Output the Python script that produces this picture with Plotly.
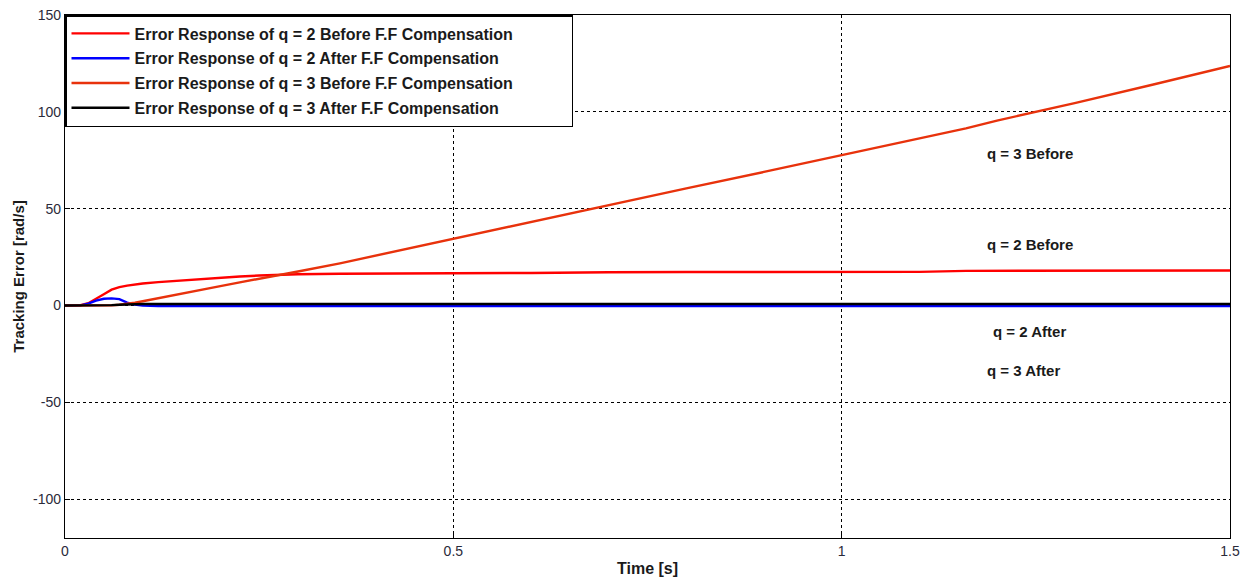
import plotly.graph_objects as go

# ---- data ----
time_s = [0, 0.01, 0.02, 0.03, 0.04, 0.05, 0.06, 0.07, 0.08, 0.09, 0.10, 0.12,
          0.15, 0.165, 0.20, 0.225, 0.25, 0.286, 0.30, 0.354, 0.40, 0.50, 0.60,
          0.67, 0.70, 0.80, 0.90, 1.00, 1.10, 1.16, 1.20, 1.30, 1.40, 1.50]

q2_before = [0, 0, 0.2, 1.2, 3.3, 5.8, 8.2, 9.5, 10.3, 10.9, 11.4, 12.1,
             13.0, 13.5, 14.4, 15.0, 15.5, 16.0, 16.2, 16.4, 16.6, 16.7, 16.8,
             17.2, 17.2, 17.3, 17.3, 17.4, 17.4, 17.9, 17.9, 18.0, 18.0, 18.1]

q2_after = [0, 0, 0.1, 1.0, 2.5, 3.5, 3.7, 3.3, 1.5, 0.5, 0, -0.2,
            -0.3, -0.3, -0.3, -0.3, -0.3, -0.3, -0.3, -0.3, -0.3, -0.3, -0.3,
            -0.3, -0.3, -0.3, -0.3, -0.3, -0.3, -0.3, -0.3, -0.3, -0.3, -0.3]

q3_before = [0, 0, 0, 0, 0, 0, 0.1, 0.4, 0.8, 1.5, 2.2, 3.7,
             6.0, 7.2, 10.0, 12.0, 14.0, 16.6, 17.6, 21.8, 25.8, 34.6, 43.5,
             49.5, 52.0, 60.5, 69.0, 77.8, 86.5, 91.5, 95.5, 104.5, 114.0, 123.7]

q3_after = [0, 0, 0, 0, 0, 0.1, 0.2, 0.4, 0.6, 0.7, 0.8, 0.8,
            0.8, 0.8, 0.8, 0.8, 0.8, 0.8, 0.8, 0.8, 0.8, 0.8, 0.8,
            0.8, 0.8, 0.8, 0.8, 0.8, 0.8, 0.8, 0.8, 0.8, 0.8, 0.8]

series_names = [
    "Error Response of q = 2 Before F.F Compensation",
    "Error Response of q = 2 After F.F Compensation",
    "Error Response of q = 3 Before F.F Compensation",
    "Error Response of q = 3 After F.F Compensation",
]
series_values = [q2_before, q2_after, q3_before, q3_after]
series_colors = ["#ff0000", "#0000ff", "#e8320c", "#000000"]

x_ticks = [0, 0.5, 1, 1.5]
x_tick_text = ["0", "0.5", "1", "1.5"]
y_ticks = [-100, -50, 0, 50, 100, 150]
y_tick_text = ["-100", "-50", "0", "50", "100", "150"]

labels = ["q = 3 Before", "q = 2 Before", "q = 2 After", "q = 3 After"]
label_x = [1.242, 1.242, 1.242, 1.234]
label_y = [78.5, 31.5, -13.5, -33.5]

FONT = "Liberation Sans, Arial"
PAD = "\u00a0" * 12

fig = go.Figure()
for i in range(4):
    fig.add_trace(go.Scatter(
        x=time_s, y=series_values[i], mode="lines",
        name="<b>%s</b>%s" % (series_names[i], PAD),
        line=dict(color=series_colors[i], width=2.4),
        legendgroup="g%d" % i, legendrank=i + 1,
    ))

for t, lx, ly in zip(labels, label_x, label_y):
    fig.add_annotation(x=lx, y=ly, text="<b>%s</b>" % t, showarrow=False,
                       font=dict(family=FONT, size=15, color="#1a1a1a"))

axis_common = dict(
    showline=True, linecolor="black", linewidth=1.2, mirror=True,
    ticks="inside", ticklen=5, tickcolor="black",
    showgrid=True, gridcolor="black", gridwidth=1, griddash="3px,3px",
    zeroline=False, automargin=False, ticklabeloverflow="allow",
    tickfont=dict(family=FONT, size=14, color="#2a2a3a"),
)

fig.update_xaxes(range=[0, 1.5], tickvals=x_ticks, ticktext=x_tick_text,
                 title=dict(text="<b>Time [s]</b>", standoff=4,
                            font=dict(family=FONT, size=16, color="#1a1a1a")),
                 **axis_common)
fig.update_yaxes(range=[-120, 150], tickvals=y_ticks, ticktext=y_tick_text,
                 title=dict(text="<b>Tracking Error [rad/s]</b>", standoff=4,
                            font=dict(family=FONT, size=15, color="#1a1a1a")),
                 **axis_common)

fig.update_layout(
    width=1250, height=586,
    margin=dict(l=57, r=28, t=7, b=56),
    paper_bgcolor="white", plot_bgcolor="white",
    showlegend=True,
    legend=dict(
        x=0, y=1, xanchor="left", yanchor="top",
        bgcolor="white", bordercolor="black", borderwidth=1.5,
        font=dict(family=FONT, size=16, color="#1a1a1a"),
        tracegroupgap=1, itemwidth=58,
        traceorder="grouped",
    ),
)

fig.write_html("out.html")
